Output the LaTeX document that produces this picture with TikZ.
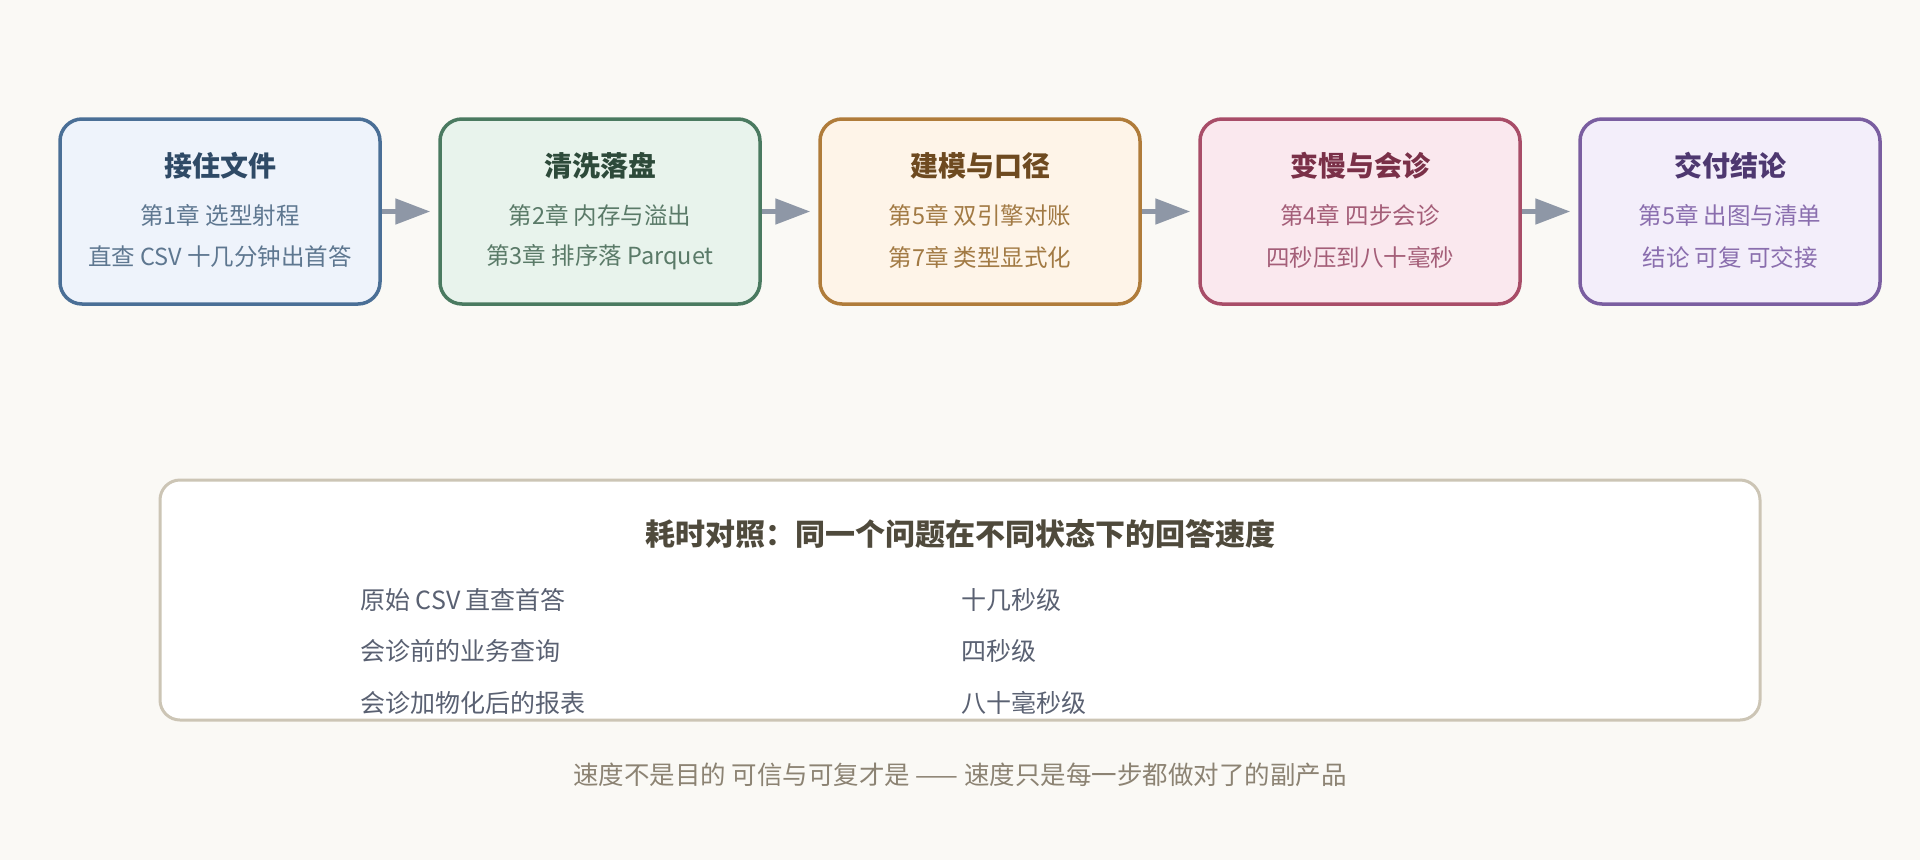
\documentclass[tikz,border=0pt]{standalone}
\usepackage{fontspec}
\setmainfont{Noto Sans CJK SC}
\usetikzlibrary{positioning,arrows.meta}

\definecolor{pagebg}{HTML}{FAF9F5}
\definecolor{arrowgray}{HTML}{8E97A6}
% stage colours: line, fill, title, text
\definecolor{aline}{HTML}{4A6F96}\definecolor{afill}{HTML}{EEF3FB}
\definecolor{atitle}{HTML}{2F4A66}\definecolor{atext}{HTML}{5E7790}
\definecolor{bline}{HTML}{4A7A60}\definecolor{bfill}{HTML}{E8F3EC}
\definecolor{btitle}{HTML}{2D4A3A}\definecolor{btext}{HTML}{5A7A68}
\definecolor{cline}{HTML}{B07C3A}\definecolor{cfill}{HTML}{FEF4E8}
\definecolor{ctitle}{HTML}{6E4A20}\definecolor{ctext}{HTML}{A27A44}
\definecolor{dline}{HTML}{A84D68}\definecolor{dfill}{HTML}{FAE8EE}
\definecolor{dtitle}{HTML}{7A3048}\definecolor{dtext}{HTML}{A45E78}
\definecolor{eline}{HTML}{7A5EA0}\definecolor{efill}{HTML}{F3EEFA}
\definecolor{etitle}{HTML}{4E3870}\definecolor{etext}{HTML}{8A6EAE}
% timing panel
\definecolor{panelline}{HTML}{CCC5B5}
\definecolor{paneltitle}{HTML}{4F4A3C}
\definecolor{rowtext}{HTML}{5A6172}
\definecolor{foottext}{HTML}{8C8373}

\begin{document}
\begin{tikzpicture}[x=1pt,y=-1pt,
  stage/.style={draw, line width=3.5pt, rounded corners=22pt, minimum width=320pt, minimum height=185pt},
  ttl/.style={inner sep=0pt, font=\fontsize{28}{33}\selectfont\bfseries},
  sub/.style={inner sep=0pt, font=\fontsize{23.5}{28}\selectfont},
  flow/.style={draw=arrowgray, line width=5pt, -{Triangle[length=35pt,width=25pt]}, shorten >=8pt},
  row/.style={inner sep=0pt, anchor=west, text=rowtext, font=\fontsize{25}{30}\selectfont}]
 \useasboundingbox[fill=pagebg] (0,0) rectangle (1920,860);

 % stages
 \node[stage, draw=aline, fill=afill] (file) at (220,211.5) {};
 \node[stage, draw=bline, fill=bfill] (clean) at (600,211.5) {};
 \node[stage, draw=cline, fill=cfill] (model) at (980,211.5) {};
 \node[stage, draw=dline, fill=dfill] (slow) at (1360,211.5) {};
 \node[stage, draw=eline, fill=efill, minimum width=300pt] (deliver) at (1730,211.5) {};

 \node[ttl, text=atitle] (file-t) at (220,166) {接住文件};
 \node[sub, text=atext] (file-a) at (220,215) {第1章 选型射程};
 \node[sub, text=atext] (file-b) at (220,257) {直查 CSV 十几分钟出首答};

 \node[ttl, text=btitle] (clean-t) at (600,166) {清洗落盘};
 \node[sub, text=btext] (clean-a) at (600,215) {第2章 内存与溢出};
 \node[sub, text=btext] (clean-b) at (600,257) {第3章 排序落 Parquet};

 \node[ttl, text=ctitle] (model-t) at (980,166) {建模与口径};
 \node[sub, text=ctext] (model-a) at (980,215) {第5章 双引擎对账};
 \node[sub, text=ctext] (model-b) at (980,257) {第7章 类型显式化};

 \node[ttl, text=dtitle] (slow-t) at (1360,166) {变慢与会诊};
 \node[sub, text=dtext] (slow-a) at (1360,215) {第4章 四步会诊};
 \node[sub, text=dtext] (slow-b) at (1360,257) {四秒压到八十毫秒};

 \node[ttl, text=etitle] (deliver-t) at (1730,166) {交付结论};
 \node[sub, text=etext] (deliver-a) at (1730,215) {第5章 出图与清单};
 \node[sub, text=etext] (deliver-b) at (1730,257) {结论 可复 可交接};

 \draw[flow] (file.east) -- (clean.west);
 \draw[flow] (clean.east) -- (model.west);
 \draw[flow] (model.east) -- (slow.west);
 \draw[flow] (slow.east) -- (deliver.west);

 % timing panel
 \node[draw=panelline, fill=white, line width=3pt, rounded corners=20pt,
   minimum width=1600pt, minimum height=240pt] (panel) at (960,600) {};
 \node[inner sep=0pt, text=paneltitle, font=\fontsize{30}{35}\selectfont\bfseries] (panel-t) at (960,534) {耗时对照：同一个问题在不同状态下的回答速度};

 \node[row] (csv) at (360,600) {原始 CSV 直查首答};
 \node[row] (csv-v) at (961,600) {十几秒级};
 \node[row] (before) at (360,651) {会诊前的业务查询};
 \node[row] (before-v) at (961,651) {四秒级};
 \node[row] (after) at (360,703) {会诊加物化后的报表};
 \node[row] (after-v) at (961,703) {八十毫秒级};

 \node[inner sep=0pt, text=foottext, font=\fontsize{25.5}{30}\selectfont] (foot) at (960,775) {速度不是目的 可信与可复才是 —— 速度只是每一步都做对了的副产品};
\end{tikzpicture}
\end{document}
